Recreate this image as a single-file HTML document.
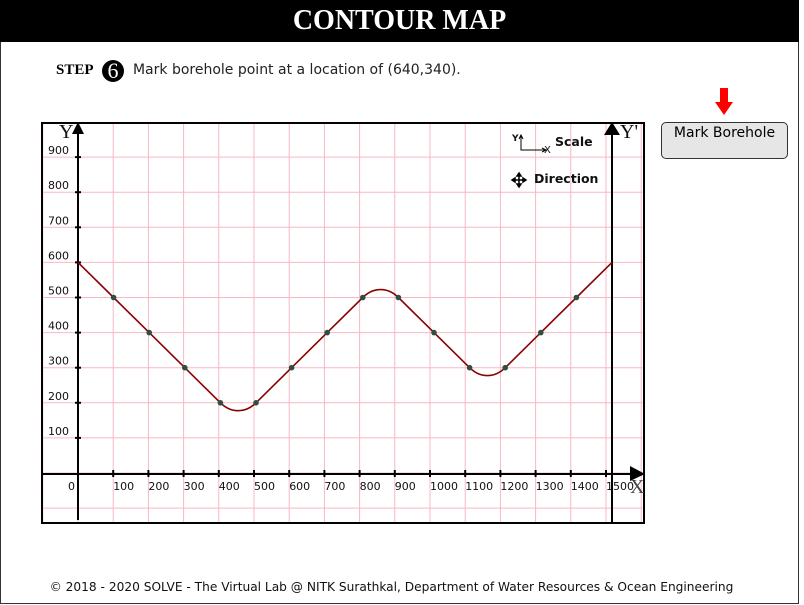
<!DOCTYPE html>
<html><head><meta charset="utf-8"><style>
body{margin:0;width:804px;height:605px;overflow:hidden;background:#fff;font-family:"DejaVu Sans","Liberation Sans",sans-serif;position:relative}
#frame{position:absolute;left:0;top:0;width:797px;height:603px;border:1px solid #333;border-top:none}
#title{position:absolute;left:0;top:0;width:799px;height:42px;background:#000;color:#fff;font:bold 28px "Liberation Serif",serif;text-align:center;line-height:42px}
#step{position:absolute;left:56px;top:58px;font-size:14px;color:#222;line-height:24px}
#step b{font:bold 15px "Liberation Serif",serif;color:#000}
#circ{display:inline-block;width:22px;height:22px;border-radius:50%;background:#000;color:#fff;font:22px "Liberation Serif",serif;text-align:center;line-height:22px;vertical-align:-4px;margin:0 9px 0 4px}
#btn{position:absolute;left:661px;top:122px;width:125px;height:35px;border:1px solid #333;border-radius:5px;background:#e6e6e6;font-size:14px;text-align:center;line-height:20px;box-sizing:content-box}
#foot{position:absolute;left:0;width:783px;top:580px;text-align:center;font-size:12.2px;color:#111}
</style></head><body>
<div id="frame"></div>
<div id="title">CONTOUR MAP</div>
<div id="step"><b>STEP</b> <span id="circ">6</span>Mark borehole point at a location of (640,340).</div>
<svg style="position:absolute;left:714px;top:88px" width="20" height="28"><path d="M6 0H14V14H19L10 27L1 14H6Z" fill="#f00"/></svg>
<div id="btn">Mark Borehole</div>
<svg id="chart" style="position:absolute;left:0;top:0" width="804" height="605"></svg>
<div id="foot">© 2018 - 2020 SOLVE - The Virtual Lab @ NITK Surathkal, Department of Water Resources &amp; Ocean Engineering</div>
<script>
const xVals=[0,100,200,300,400,500,600,700,800,900,1000,1100,1200,1300,1400,1500];
const yVals=[600,500,400,300,200,200,300,400,500,500,400,300,300,400,500,600];
const xTicks=[100,200,300,400,500,600,700,800,900,1000,1100,1200,1300,1400,1500];
const yTicks=[100,200,300,400,500,600,700,800,900];
const NS="http://www.w3.org/2000/svg";
const svg=document.getElementById('chart');
const X=v=>78+v*0.352, Y=v=>473-v*0.351;
const XC=v=>78+v*0.356;
function mk(t,a,p){const e=document.createElementNS(NS,t);for(const k in a)e.setAttribute(k,a[k]);(p||svg).appendChild(e);return e;}
const g=mk('g',{stroke:'#f7b8c4','stroke-width':1});


for(let v=-100;v<=1700;v+=100){const x=X(v);if(x>42&&x<645)mk('line',{x1:x,y1:123,x2:x,y2:523},g);}
for(let v=-100;v<=1000;v+=100){const y=Y(v);if(y>=123&&y<523)mk('line',{x1:42,y1:y,x2:644,y2:y},g);}
const b=mk('rect',{x:42,y:123,width:602,height:400,fill:'none',stroke:'#000','stroke-width':2});


const ya=mk('line',{x1:78,y1:128,x2:78,y2:520,stroke:'#000','stroke-width':2});


mk('path',{d:'M72 134L78 122L84 134Z',fill:'#000'});
const yp=mk('line',{x1:612,y1:128,x2:612,y2:523,stroke:'#000','stroke-width':2});


mk('path',{d:'M604 135L612 122L620 135Z',fill:'#000'});
const xa=mk('line',{x1:42,y1:474,x2:634,y2:474,stroke:'#000','stroke-width':2});


mk('path',{d:'M630 466L645 474L630 481Z',fill:'#000'});
function txt(s,x,y,a){const t=mk('text',Object.assign({x:x,y:y,'font-size':11,fill:'#111','font-family':'DejaVu Sans, sans-serif'},a||{}));t.textContent=s;return t;}
const yl=txt('Y',59,138,{'font-size':20,'font-family':'Liberation Serif, serif'});


const ypl=txt("Y'",620,138,{'font-size':20,'font-family':'Liberation Serif, serif'});


const xl=txt('X',630,493,{'font-size':20,'font-family':'Liberation Serif, serif',fill:'#444'});


const zl=txt('0',68,490);


xTicks.forEach(v=>{const x=X(v);mk('line',{x1:x,y1:470,x2:x,y2:477,stroke:'#000','stroke-width':2});
 const t=txt(v,x,490,{});
 });
yTicks.forEach(v=>{const y=Y(v);mk('line',{x1:75,y1:y,x2:81,y2:y,stroke:'#000','stroke-width':2});
 const t=txt(v,48,y-3,{});
 });
const P=xVals.map((v,i)=>[XC(v),Y(yVals[i])]);
const s=0.3;let d='M'+P[0][0]+' '+P[0][1];
for(let i=0;i<P.length-1;i++){const p1=P[i],p2=P[i+1];
 if(Math.abs(p1[1]-p2[1])<0.01&&i>0&&i<P.length-2){const p0=P[i-1],p3=P[i+2];
  const c1=[p1[0]+(p1[0]-p0[0])*s,p1[1]+(p1[1]-p0[1])*s];
  const c2=[p2[0]+(p2[0]-p3[0])*s,p2[1]+(p2[1]-p3[1])*s];
  d+=' C'+c1[0]+' '+c1[1]+' '+c2[0]+' '+c2[1]+' '+p2[0]+' '+p2[1];
 } else d+=' L'+p2[0]+' '+p2[1];}
const c=mk('path',{d:d,fill:'none',stroke:'#8b0000','stroke-width':1.6,'stroke-linejoin':'round'});


P.forEach((p,i)=>{if(i==0||i==P.length-1)return;const e=mk('circle',{cx:p[0],cy:p[1],r:2.8,fill:'#2f4f44'});
 
 });
const lg=mk('g',{});


mk('path',{d:'M521 136V150H545M519 139L521 135L523 139M542 148L546 150L542 152',fill:'none',stroke:'#000','stroke-width':1},lg);
txt('Y',512,141,{'font-size':9,'font-weight':'bold'});txt('X',544,153,{'font-size':10});
txt('Scale',555,146,{'font-size':12.5,'font-weight':'bold'});
mk('path',{d:'M512 180H526M519 173V187M512 180l3-2v4zM526 180l-3-2v4zM519 173l-2 3h4zM519 187l-2-3h4z',fill:'#000',stroke:'#000','stroke-width':1.5},lg);
txt('Direction',534,183,{'font-size':12.5,'font-weight':'bold'});
</script>
</body></html>
